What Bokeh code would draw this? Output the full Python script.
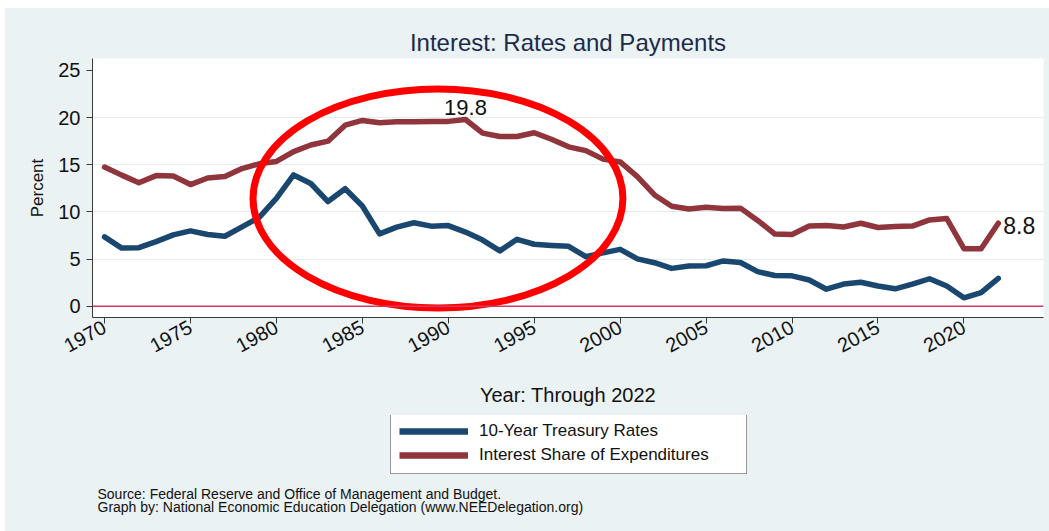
from bokeh.plotting import figure
from bokeh.layouts import column
from bokeh.models import Range1d, FixedTicker, Label, Legend, LegendItem, Span, Title
from bokeh.embed import file_html
from bokeh.resources import INLINE

# ---------------- data ----------------
years = list(range(1970, 2023))
treasury_rates = [7.35, 6.16, 6.21, 6.85, 7.56, 7.99, 7.61, 7.42, 8.41, 9.43,
                  11.43, 13.92, 13.01, 11.10, 12.46, 10.62, 7.67, 8.39, 8.85, 8.49,
                  8.55, 7.86, 7.01, 5.87, 7.09, 6.57, 6.44, 6.35, 5.26, 5.65,
                  6.03, 5.02, 4.61, 4.01, 4.27, 4.29, 4.80, 4.63, 3.66, 3.26,
                  3.22, 2.78, 1.80, 2.35, 2.54, 2.14, 1.84, 2.33, 2.91, 2.14,
                  0.89, 1.45, 2.95]
interest_share = [14.75, 13.9, 13.1, 13.85, 13.8, 12.9, 13.6, 13.75, 14.6, 15.1,
                  15.35, 16.4, 17.1, 17.5, 19.2, 19.7, 19.45, 19.55, 19.55, 19.6,
                  19.6, 19.8, 18.35, 18.0, 18.0, 18.4, 17.7, 16.9, 16.5, 15.6,
                  15.3, 13.75, 11.8, 10.6, 10.3, 10.5, 10.35, 10.4, 9.1, 7.65,
                  7.6, 8.5, 8.55, 8.4, 8.8, 8.35, 8.45, 8.5, 9.15, 9.3,
                  6.1, 6.1, 8.8]
series_names = ["10-Year Treasury Rates", "Interest Share of Expenditures"]
x_ticks = [1970, 1975, 1980, 1985, 1990, 1995, 2000, 2005, 2010, 2015, 2020]
y_ticks = [0, 5, 10, 15, 20, 25]
grid_ticks = [5, 10, 15, 20]

title_text = "Interest: Rates and Payments"
x_title = "Year: Through 2022"
y_title = "Percent"
source_lines = ["Source: Federal Reserve and Office of Management and Budget.",
                "Graph by: National Economic Education Delegation (www.NEEDelegation.org)"]

# highlight ellipse (annotation, data units)
ELL_X, ELL_Y, ELL_W, ELL_H = 1989.40, 11.42, 21.52, 23.23

# ---------------- style ----------------
FONT = "Liberation Sans"
NAVY = "#1a476f"
MAROON = "#90353b"
BG = "#eaf2f3"
TXT = "#111111"
LW = 5.5

# ---------------- main chart ----------------
p = figure(width=1044, height=407, output_backend="svg", toolbar_location=None,
           x_range=Range1d(1969.30, 2024.63), y_range=Range1d(-1.20, 26.27),
           min_border_left=87, min_border_right=6, min_border_top=50,
           min_border_bottom=98, background_fill_color="white",
           border_fill_color=BG, outline_line_color=None)

p.title = Title(text=title_text, align="center", text_font=FONT, text_font_size="24px",
                text_font_style="normal", text_color="#1c2b4b", standoff=6, offset=0)

for ax in (p.xaxis, p.yaxis):
    ax.axis_line_color = "#3a3a3a"
    ax.axis_line_width = 1
    ax.major_tick_line_color = "#3a3a3a"
    ax.major_tick_out = 6
    ax.major_tick_in = 0
    ax.minor_tick_out = 0
    ax.minor_tick_in = 0
    ax.major_label_text_font = FONT
    ax.major_label_text_font_size = "20px"
    ax.major_label_text_color = TXT
    ax.axis_label_text_font = FONT
    ax.axis_label_text_font_style = "normal"
    ax.axis_label_text_color = TXT

p.xaxis.ticker = FixedTicker(ticks=x_ticks)
p.yaxis.ticker = FixedTicker(ticks=y_ticks)
p.xaxis.major_label_orientation = 0.5
p.xaxis.major_label_standoff = 2
p.yaxis.major_label_standoff = 6
p.xaxis.axis_label = x_title
p.xaxis.axis_label_text_font_size = "20px"
p.xaxis.axis_label_standoff = 22
p.yaxis.axis_label = y_title
p.yaxis.axis_label_text_font_size = "17px"
p.yaxis.axis_label_standoff = 8

p.xgrid.visible = False
p.ygrid.ticker = FixedTicker(ticks=grid_ticks)
p.ygrid.grid_line_color = "#e4ecee"
p.ygrid.grid_line_width = 1.2

p.add_layout(Span(location=0, dimension="width", line_color="#cf3a5e", line_width=1.5))

p.line(years, treasury_rates, line_color=NAVY, line_width=LW,
       line_join="round", line_cap="round")
p.line(years, interest_share, line_color=MAROON, line_width=LW,
       line_join="round", line_cap="round")

# value labels
imax = max(range(len(interest_share)), key=lambda i: interest_share[i])
p.add_layout(Label(x=years[imax], y=interest_share[imax], text=f"{interest_share[imax]:.1f}",
                   text_align="center", text_baseline="bottom", y_offset=5,
                   text_font=FONT, text_font_size="22px", text_color=TXT))
p.add_layout(Label(x=years[-1], y=interest_share[-1], text=f"{interest_share[-1]:.1f}",
                   text_align="left", text_baseline="middle", x_offset=5, y_offset=-2,
                   text_font=FONT, text_font_size="23px", text_color=TXT))

# red highlight ellipse
p.ellipse(x=[ELL_X], y=[ELL_Y], width=[ELL_W], height=[ELL_H],
          fill_color=None, line_color="#ff0000", line_width=7)

# ---------------- bottom strip: legend + source ----------------
# (frame of this strip is aligned with the main chart's frame by the column layout)
q = figure(width=1044, height=116, output_backend="svg", toolbar_location=None,
           title=None, x_axis_location=None, y_axis_location=None,
           x_range=Range1d(0, 1), y_range=Range1d(0, 1),
           min_border_left=0, min_border_right=0, min_border_top=0, min_border_bottom=0,
           background_fill_color=BG, border_fill_color=BG, outline_line_color=None)
q.xgrid.visible = False
q.ygrid.visible = False

# legend keys: same series, drawn outside this strip's view so only the key shows
k1 = q.line(years, treasury_rates, line_color=NAVY, line_width=6.5)
k2 = q.line(years, interest_share, line_color=MAROON, line_width=6.5)
legend = Legend(items=[LegendItem(label=series_names[0], renderers=[k1]),
                       LegendItem(label=series_names[1], renderers=[k2])],
                location=(298, 57), orientation="vertical", margin=0,
                padding=8, spacing=4, glyph_width=69, glyph_height=20,
                label_standoff=11, label_width=259, label_height=20,
                label_text_font=FONT, label_text_font_size="17px",
                label_text_color=TXT, label_text_baseline="middle",
                border_line_color="#333333", border_line_width=1,
                background_fill_color="white", background_fill_alpha=1.0)
q.add_layout(legend)

for i, line in enumerate(source_lines):
    q.add_layout(Label(x=5, y=38 - 13 * i, x_units="screen", y_units="screen", text=line,
                       text_align="left", text_baseline="middle",
                       text_font=FONT, text_font_size="14px", text_color=TXT))

layout = column(p, q, spacing=0, margin=(8, 0, 0, 5),
                styles={"background-color": BG})
open("out.html", "w").write(file_html(layout, INLINE))
